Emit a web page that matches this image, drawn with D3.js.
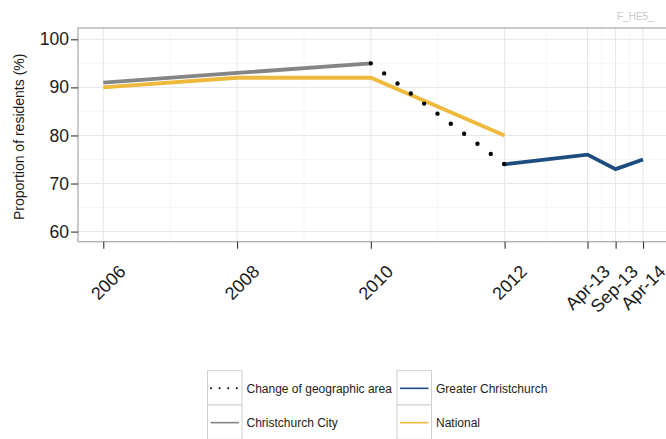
<!DOCTYPE html>
<html>
<head>
<meta charset="utf-8">
<script src="https://cdn.jsdelivr.net/npm/d3@7/dist/d3.min.js"></script>
<style>
  html, body { margin: 0; padding: 0; background: #fff; }
  svg { display: block; font-family: "Liberation Sans", Arial, sans-serif; }
</style>
</head>
<body>
<svg id="chart" width="666" height="439"></svg>
<script>
// ---- data ----
const xTickValues = [2006, 2008, 2010, 2012, 2013.24, 2013.66, 2014.07];
const xTickLabels = ["2006", "2008", "2010", "2012", "Apr-13", "Sep-13", "Apr-14"];
const yTickValues = [60, 70, 80, 90, 100];

const cityX = [2006, 2008, 2010];
const cityY = [91, 93, 95];
const nationalX = [2006, 2008, 2010, 2012];
const nationalY = [90, 92, 92, 80];
const greaterX = [2012, 2013.24, 2013.66, 2014.07];
const greaterY = [74, 76, 73, 75];
const changeX = [2010, 2012];
const changeY = [95, 74];

const legendNames = ["Change of geographic area", "Christchurch City", "Greater Christchurch", "National"];
const colors = { change: "#000000", city: "#858585", greater: "#1d4c7f", national: "#efb93c" };

// ---- layout ----
const svg = d3.select("#chart");
const panel = { left: 78, right: 670, top: 28, bottom: 241.7 };

const x = d3.scaleLinear().domain([2005.622, 2014.473]).range([panel.left, panel.right]);
const y = d3.scaleLinear().domain([57.9, 102.35]).range([panel.bottom, panel.top]);

// watermark
svg.append("text").attr("x", 617).attr("y", 20).attr("font-size", 10)
  .attr("fill", "#c9c9c9").text("F_HE5_");

// panel background + grid
const g = svg.append("g");
g.append("rect").attr("x", panel.left).attr("y", panel.top)
  .attr("width", panel.right - panel.left).attr("height", panel.bottom - panel.top)
  .attr("fill", "#fff");

const yMinor = [65, 75, 85, 95];
const xMinor = [];
for (let i = 0; i < xTickValues.length - 1; i++) xMinor.push((xTickValues[i] + xTickValues[i + 1]) / 2);

g.selectAll(".ymin").data(yMinor).enter().append("line")
  .attr("x1", panel.left).attr("x2", panel.right)
  .attr("y1", d => y(d)).attr("y2", d => y(d))
  .attr("stroke", "#f4f4f4").attr("stroke-width", 0.8);
g.selectAll(".xmin").data(xMinor).enter().append("line")
  .attr("y1", panel.top).attr("y2", panel.bottom)
  .attr("x1", d => x(d)).attr("x2", d => x(d))
  .attr("stroke", "#f4f4f4").attr("stroke-width", 0.8);
g.selectAll(".ymaj").data(yTickValues).enter().append("line")
  .attr("x1", panel.left).attr("x2", panel.right)
  .attr("y1", d => y(d)).attr("y2", d => y(d))
  .attr("stroke", "#e6e6e6").attr("stroke-width", 1);
g.selectAll(".xmaj").data(xTickValues).enter().append("line")
  .attr("y1", panel.top).attr("y2", panel.bottom)
  .attr("x1", d => x(d)).attr("x2", d => x(d))
  .attr("stroke", "#e6e6e6").attr("stroke-width", 1);

// lines
const line = d3.line().x(d => x(d[0])).y(d => y(d[1]));
const zip = (a, b) => a.map((v, i) => [v, b[i]]);

g.append("path").datum(zip(cityX, cityY)).attr("d", line)
  .attr("fill", "none").attr("stroke", colors.city).attr("stroke-width", 3.8);
g.append("path").datum(zip(nationalX, nationalY)).attr("d", line)
  .attr("fill", "none").attr("stroke", colors.national).attr("stroke-width", 3.8);
g.append("path").datum(zip(greaterX, greaterY)).attr("d", line)
  .attr("fill", "none").attr("stroke", colors.greater).attr("stroke-width", 3.8);
g.append("path").datum(zip(changeX, changeY)).attr("d", line)
  .attr("fill", "none").attr("stroke", colors.change).attr("stroke-width", 4.4)
  .attr("stroke-linecap", "round").attr("stroke-dasharray", "0,16.7");

// panel border
g.append("rect").attr("x", panel.left).attr("y", panel.top)
  .attr("width", panel.right - panel.left).attr("height", panel.bottom - panel.top)
  .attr("fill", "none").attr("stroke", "#a8a8a8").attr("stroke-width", 1.2);

// y axis
const yAxis = svg.append("g").attr("transform", `translate(${panel.left},0)`)
  .call(d3.axisLeft(y).tickValues(yTickValues).tickSize(7).tickPadding(2));
yAxis.select(".domain").remove();
yAxis.selectAll(".tick line").attr("stroke", "#333").attr("stroke-width", 1.1);
yAxis.selectAll(".tick text").attr("font-size", 17.5).attr("fill", "#1a1a1a")
  .attr("font-family", "Liberation Sans, Arial, sans-serif");

// x axis
const xAxis = svg.append("g").attr("transform", `translate(0,${panel.bottom})`)
  .call(d3.axisBottom(x).tickValues(xTickValues).tickSize(7)
    .tickFormat((d, i) => xTickLabels[i]));
xAxis.select(".domain").remove();
xAxis.selectAll(".tick line").attr("stroke", "#333").attr("stroke-width", 1.1);
xAxis.selectAll(".tick text")
  .attr("font-size", 18).attr("fill", "#1a1a1a")
  .attr("font-family", "Liberation Sans, Arial, sans-serif")
  .attr("text-anchor", "end")
  .attr("dy", "0.71em")
  .attr("y", 0)
  .attr("transform", "translate(14,22) rotate(-45)");

// y title
svg.append("text").attr("transform", `translate(24,${(panel.top + panel.bottom) / 2 + 2}) rotate(-90)`)
  .attr("text-anchor", "middle").attr("font-size", 14).attr("fill", "#1a1a1a")
  .text("Proportion of residents (%)");

// legend
const legendItems = [
  { name: legendNames[0], key: "change", col: 0, row: 0 },
  { name: legendNames[1], key: "city", col: 0, row: 1 },
  { name: legendNames[2], key: "greater", col: 1, row: 0 },
  { name: legendNames[3], key: "national", col: 1, row: 1 }
];
const colX = [207.5, 397];
const rowY = [370.7, 405];
const keyW = 34.5, keyH = 34.3;
const lg = svg.append("g");
legendItems.forEach(it => {
  const kx = colX[it.col], ky = rowY[it.row];
  lg.append("rect").attr("x", kx).attr("y", ky).attr("width", keyW).attr("height", keyH)
    .attr("fill", "#fff").attr("stroke", "#cfcfcf").attr("stroke-width", 1);
  const ly = ky + keyH / 2 + 0.5;
  const l = lg.append("line").attr("x1", kx + 3).attr("x2", kx + keyW - 3)
    .attr("y1", ly).attr("y2", ly).attr("stroke", colors[it.key]);
  if (it.key === "change") {
    l.attr("x1", kx + 3.5).attr("stroke-width", 2).attr("stroke-linecap", "round")
      .attr("stroke-dasharray", "0,8.6");
  } else {
    l.attr("stroke-width", 1.6);
  }
  lg.append("text").attr("x", kx + keyW + 4.5).attr("y", ly).attr("dy", "0.35em")
    .attr("font-size", 12).attr("fill", "#222").text(it.name);
});
</script>
</body>
</html>
